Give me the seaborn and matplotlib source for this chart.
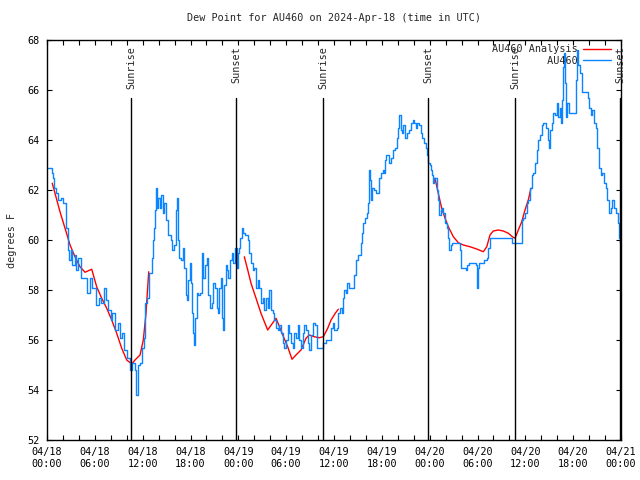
import matplotlib
matplotlib.use("Agg")
import matplotlib.pyplot as plt
import matplotlib.dates as mdates
from matplotlib.lines import Line2D
import seaborn as sns
import pandas as pd
import numpy as np

# ---------------- data ----------------
start = "2024-04-18 00:00"
end = "2024-04-21 00:00"

# AU460 observations: hours after 2024-04-18 00:00 UTC, dew point (F)
obs_hours = [0.13, 0.66, 0.79, 0.88, 1.09, 1.38, 1.72, 2.04, 2.35, 2.63, 2.76, 2.97, 3.17, 3.47, 3.68, 3.93,
             4.23, 4.64, 4.98, 5.39, 5.68, 6.18, 6.52, 6.81, 7.15, 7.36, 7.69, 7.99, 8.19, 8.53, 8.91, 9.16,
             9.45, 9.66, 10.00, 10.41, 10.70, 11.00, 11.20, 11.42, 11.67, 11.95, 12.17, 12.29, 12.58, 12.83,
             13.13, 13.26, 13.42, 13.55, 13.67, 13.84, 13.96, 14.17, 14.26, 14.51, 14.68, 14.93, 15.22, 15.52,
             15.72, 15.93, 16.14, 16.27, 16.40, 16.60, 16.77, 17.02, 17.19, 17.40, 17.52, 17.72, 17.94, 18.06,
             18.23, 18.35, 18.48, 18.60, 18.78, 18.98, 19.19, 19.41, 19.61, 19.82, 20.03, 20.23, 20.45, 20.66,
             20.86, 21.07, 21.29, 21.49, 21.61, 21.79, 21.91, 22.04, 22.20, 22.42, 22.62, 22.74, 22.96, 23.17,
             23.37, 23.55, 23.80, 24.00, 24.12, 24.21, 24.46, 24.62, 24.87, 25.18, 25.38, 25.59, 25.80, 26.01,
             26.22, 26.43, 26.63, 26.84, 27.06, 27.26, 27.47, 27.68, 27.89, 28.10, 28.31, 28.51, 28.73, 28.94,
             29.14, 29.35, 29.57, 29.77, 29.98, 30.19, 30.39, 30.61, 30.82, 31.02, 31.23, 31.45, 31.65, 31.86,
             32.08, 32.28, 32.49, 32.70, 32.90, 33.12, 33.33, 33.66, 33.87, 34.16, 34.50, 34.66, 35.00, 35.41,
             35.63, 35.84, 36.04, 36.42, 36.54, 36.75, 36.97, 37.09, 37.26, 37.51, 37.67, 37.92, 38.22, 38.51,
             38.76, 39.05, 39.35, 39.55, 39.68, 39.89, 40.10, 40.23, 40.39, 40.52, 40.64, 40.81, 41.02, 41.23,
             41.48, 41.68, 41.90, 42.11, 42.27, 42.40, 42.52, 42.69, 42.94, 43.15, 43.36, 43.65, 43.87, 44.07,
             44.19, 44.37, 44.57, 44.69, 44.91, 45.12, 45.41, 45.62, 45.87, 46.08, 46.29, 46.45, 46.66, 46.88,
             47.08, 47.29, 47.50, 47.63, 47.75, 48.04, 48.17, 48.33, 48.46, 48.58, 48.76, 48.88, 49.08, 49.21,
             49.39, 49.51, 49.71, 49.93, 50.14, 50.34, 50.47, 50.64, 50.84, 51.18, 51.60, 51.81, 51.93, 52.22,
             52.52, 52.72, 52.94, 53.27, 53.60, 53.78, 53.90, 53.98, 54.10, 54.23, 54.53, 54.86, 55.16, 55.36,
             55.57, 55.98, 56.41, 57.04, 57.66, 58.08, 58.29, 58.62, 58.92, 59.33, 59.55, 59.75, 59.96, 60.17,
             60.37, 60.59, 60.80, 61.00, 61.21, 61.43, 61.63, 61.84, 62.05, 62.26, 62.59, 62.81, 62.97, 63.10,
             63.31, 63.51, 63.72, 63.94, 64.14, 64.35, 64.48, 64.64, 64.77, 64.89, 65.02, 65.11, 65.27, 65.48,
             66.23, 66.36, 66.52, 66.65, 66.86, 67.07, 67.57, 67.83, 68.03, 68.20, 68.40, 68.62, 68.83, 69.03,
             69.24, 69.46, 69.66, 69.87, 70.08, 70.29, 70.50, 70.71, 70.91, 71.13, 71.38, 71.59, 71.75, 71.84]
obs_values = [62.87, 62.67, 62.48, 62.08, 61.88, 61.6, 61.7, 61.5, 60.5, 59.6, 59.2, 59.6, 59.0, 59.4, 58.8, 59.3,
              58.5, 58.5, 57.9, 58.5, 58.1, 57.4, 57.7, 57.5, 58.1, 57.6, 57.2, 56.8, 57.1, 56.4, 56.7, 56.1,
              56.3, 55.6, 55.3, 54.8, 55.1, 54.8, 53.8, 55.0, 55.1, 55.7, 56.1, 57.5, 57.7, 58.7,
              59.3, 60.0, 60.5, 61.2, 62.1, 61.3, 61.7, 61.3, 61.8, 61.1, 61.5, 60.8, 60.2, 60.0,
              59.6, 59.8, 61.2, 61.7, 60.0, 59.3, 59.2, 59.7, 58.9, 57.8, 57.6, 58.4, 59.1, 58.3,
              57.1, 56.3, 55.8, 56.9, 57.9, 57.8, 57.9, 59.5, 58.5, 59.0, 59.3, 57.8, 57.3, 57.5,
              58.3, 58.1, 57.3, 57.1, 58.1, 58.5, 56.9, 56.4, 58.2, 59.0, 58.8, 58.5, 59.2, 59.5,
              59.1, 59.7, 58.9, 59.5, 59.7, 60.1, 60.5, 60.3, 60.2, 60.0, 59.5, 59.1, 58.8, 58.9,
              58.1, 58.4, 58.1, 57.5, 57.7, 57.2, 57.7, 57.3, 58.0, 57.2, 57.1, 56.8, 56.5, 56.4,
              56.6, 56.3, 55.9, 55.7, 56.0, 56.6, 56.3, 55.9, 55.7, 56.3, 56.1, 56.6, 56.0, 55.7,
              56.3, 56.6, 56.4, 55.9, 55.6, 56.2, 56.7, 56.6, 55.7, 55.7, 55.7, 55.9, 56.0, 56.0,
              56.5, 56.7, 56.4, 56.5, 57.1, 57.3, 57.1, 57.7, 58.0, 57.9, 58.3, 58.1, 58.1, 58.6,
              59.2, 59.4, 59.9, 60.3, 60.7, 60.9, 61.1, 61.5, 62.8, 62.4, 61.6, 62.1, 62.0, 61.9,
              61.9, 62.5, 62.7, 62.8, 62.7, 63.2, 63.4, 63.4, 63.1, 63.3, 63.6, 63.7, 64.1, 64.5,
              65.0, 64.4, 64.3, 64.6, 64.1, 64.3, 64.4, 64.7, 64.8, 64.7, 64.5, 64.7, 64.6, 64.3,
              64.1, 63.9, 63.7, 63.4, 63.1, 63.0, 62.8, 62.6, 62.3, 62.5, 62.5, 62.0, 61.6, 61.0,
              61.2, 61.3, 61.1, 60.7, 60.5, 60.1, 59.6, 59.8, 59.9, 59.9, 59.9, 59.6, 58.9, 58.9,
              58.8, 59.0, 59.1, 59.1, 59.1, 59.0, 58.5, 58.1, 58.9, 59.1, 59.1, 59.2, 59.3, 59.7,
              60.1, 60.1, 60.1, 60.1, 60.1, 60.1, 59.9, 59.9, 59.9, 59.9, 60.8, 60.9, 61.1, 61.5,
              61.6, 62.1, 62.6, 62.7, 63.1, 63.6, 64.0, 64.2, 64.6, 64.7, 64.5, 64.0, 63.7, 64.4,
              64.7, 65.1, 65.0, 65.5, 64.9, 65.3, 64.7, 65.6, 66.9, 67.5, 66.3, 64.9, 65.5, 65.1,
              65.1, 66.4, 67.6, 67.0, 66.7, 65.9, 65.9, 65.7, 65.3, 65.0, 65.2, 64.7, 64.5, 63.7,
              62.9, 62.6, 62.7, 62.3, 62.1, 61.6, 61.1, 61.3, 61.6, 61.3, 61.1, 60.7, 60.1, 59.9]

# AU460 Analysis (three separate runs)
ana1_hours = [0.66, 1.00, 1.63, 2.26, 2.89, 3.51, 4.14, 4.77, 5.61, 6.23, 6.86, 7.49, 8.12, 8.74, 9.37,
              10.00, 10.62, 11.04, 11.67, 12.08, 12.42, 12.58, 12.76]
ana1_values = [62.27, 61.87, 61.13, 60.47, 59.8, 59.33, 58.93, 58.71, 58.83, 58.13, 57.67, 57.27, 56.8, 56.27,
               55.67, 55.2, 55.04, 55.2, 55.4, 56.0, 57.07, 57.87, 58.73]
ana2_hours = [24.75, 25.18, 25.59, 26.22, 26.84, 27.68, 28.73, 29.57, 30.19, 30.73, 31.23, 31.86, 32.49,
              32.90, 33.53, 34.16, 34.66, 35.21, 35.63, 36.16, 36.54]
ana2_values = [59.33, 58.8, 58.27, 57.67, 57.07, 56.4, 56.87, 56.2, 55.73, 55.23, 55.4, 55.6, 56.07, 56.2,
               56.13, 56.09, 56.13, 56.47, 56.8, 57.07, 57.23]
ana3_hours = [48.67, 49.08, 49.51, 49.93, 50.34, 50.97, 51.60, 52.22, 53.06, 53.90, 54.73, 55.16, 55.57,
              55.98, 56.61, 57.24, 57.87, 58.37, 58.71, 59.12, 59.55, 59.96, 60.37, 60.71]
ana3_values = [62.47, 61.87, 61.27, 60.87, 60.53, 60.13, 59.89, 59.8, 59.73, 59.64, 59.53, 59.73, 60.2,
               60.36, 60.4, 60.36, 60.27, 60.13, 60.07, 60.4, 60.73, 61.2, 61.6, 62.07]

sun_times = ["2024-04-18 10:34", "2024-04-18 23:44", "2024-04-19 10:39",
             "2024-04-19 23:49", "2024-04-20 10:43", "2024-04-20 23:54"]
sun_labels = ["Sunrise", "Sunset", "Sunrise", "Sunset", "Sunrise", "Sunset"]

title = "Dew Point for AU460 on 2024-Apr-18 (time in UTC)"
ylabel = "degrees F"
label_ana = "AU460 Analysis"
label_obs = "AU460"
y_ticks = [52, 54, 56, 58, 60, 62, 64, 66, 68]

# ---------------- plotting ----------------
sns.set_theme(style="ticks")
FONT = "DejaVu Sans Mono"
plt.rcParams["font.family"] = [FONT, "DejaVu Sans"]
FS = 7.3
RED = "#ff0000"
BLUE = "#0a84ff"

base = pd.Timestamp(start)
def to_time(hours):
    return base + pd.to_timedelta(np.asarray(hours, dtype=float), unit="h")

obs = pd.DataFrame({"time": to_time(obs_hours), "value": obs_values})

fig = plt.figure(figsize=(6.4, 4.8), dpi=100)
ax = fig.add_axes([47 / 640, 40 / 480, 574 / 640, 400 / 480])

for hrs, vals in [(ana1_hours, ana1_values), (ana2_hours, ana2_values), (ana3_hours, ana3_values)]:
    seg = pd.DataFrame({"time": to_time(hrs), "value": vals})
    sns.lineplot(data=seg, x="time", y="value", ax=ax, color=RED, linewidth=1.0,
                 estimator=None, sort=False, legend=False)

sns.lineplot(data=obs, x="time", y="value", ax=ax, color=BLUE, linewidth=1.0,
             estimator=None, sort=False, legend=False, drawstyle="steps-post")

for t, lab in zip(sun_times, sun_labels):
    ts = pd.Timestamp(t)
    ax.axvline(ts, ymin=0, ymax=(440 - 98) / 400, color="black", linewidth=1.0)
    ax.text(ts, 0.985, lab, transform=ax.get_xaxis_transform(), rotation=90,
            ha="center", va="top", fontsize=FS, family=FONT)

ax.set_xlim(pd.Timestamp(start), pd.Timestamp(end))
ax.set_ylim(52, 68)
ax.set_yticks(y_ticks)
ax.xaxis.set_major_locator(mdates.HourLocator(byhour=[0, 6, 12, 18]))
ax.xaxis.set_minor_locator(mdates.HourLocator(interval=2))
ax.xaxis.set_major_formatter(mdates.DateFormatter("%m/%d\n%H:%M"))

ax.tick_params(axis="both", which="both", direction="in", top=True, right=True,
               length=3.5, width=0.8, color="black", labelsize=FS, labelcolor="black", pad=5)
for lab in ax.get_xticklabels() + ax.get_yticklabels():
    lab.set_family(FONT)
for sp in ax.spines.values():
    sp.set_visible(True)
    sp.set_color("black")
    sp.set_linewidth(1.0)

ax.set_xlabel("")
ax.set_ylabel(ylabel, fontsize=FS, family=FONT, labelpad=8)
ax.set_title(title, fontsize=FS, family=FONT, pad=14)

n = len(label_ana)
handles = [Line2D([], [], color=RED, linewidth=1.0), Line2D([], [], color=BLUE, linewidth=1.0)]
labels = [label_ana, label_obs.rjust(n)]
leg = ax.legend(handles, labels, loc="upper right", bbox_to_anchor=(0.99, 1.0),
                frameon=False, markerfirst=False, handlelength=2.8, handletextpad=0.5,
                labelspacing=0.15, borderaxespad=0.2, borderpad=0.2,
                prop={"family": FONT, "size": FS})

fig.savefig("out.png", dpi=100, facecolor="white")
